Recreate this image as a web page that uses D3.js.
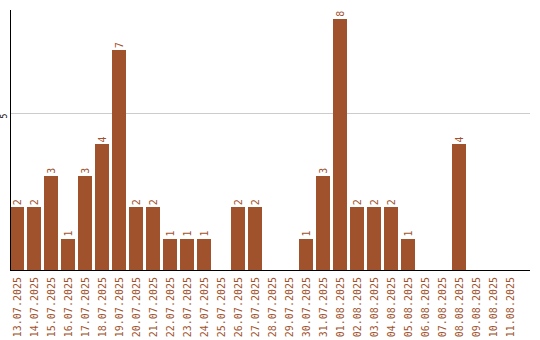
<!DOCTYPE html>
<html><head><meta charset="utf-8">
<script src="https://cdn.jsdelivr.net/npm/d3@7"></script>
<style>body{margin:0;background:#fff}svg{display:block}</style>
</head><body>
<script>
const categories = ["13.07.2025","14.07.2025","15.07.2025","16.07.2025","17.07.2025","18.07.2025","19.07.2025","20.07.2025","21.07.2025","22.07.2025","23.07.2025","24.07.2025","25.07.2025","26.07.2025","27.07.2025","28.07.2025","29.07.2025","30.07.2025","31.07.2025","01.08.2025","02.08.2025","03.08.2025","04.08.2025","05.08.2025","06.08.2025","07.08.2025","08.08.2025","09.08.2025","10.08.2025","11.08.2025"];
const values = [2,2,3,1,3,4,7,2,2,1,1,1,0,2,2,0,0,1,3,8,2,2,2,1,0,0,4,0,0,0];
const yTicks = [5];

const W = 540, H = 340;
const color = "#a0522d";
const svg = d3.select("body").append("svg").attr("width", W).attr("height", H)
  .style("shape-rendering","crispEdges");

const x = d3.scaleBand().domain(categories).range([10, 517]).paddingInner(3/17).paddingOuter(0).align(0);
const y = d3.scaleLinear().domain([0, 8.28]).range([270, 10]);

// gridlines
svg.append("g").selectAll("line").data(yTicks).join("line")
  .attr("x1", 10).attr("x2", 530).attr("y1", d => Math.round(y(d)) + 0.5).attr("y2", d => Math.round(y(d)) + 0.5)
  .attr("stroke", "#cccccc");

// bars
svg.append("g").selectAll("rect").data(values).join("rect")
  .attr("x", (d, i) => x(categories[i]))
  .attr("width", x.bandwidth())
  .attr("y", d => y(d))
  .attr("height", d => 270 - y(d))
  .attr("fill", color);

// value labels
svg.append("g").selectAll("text").data(values.map((v, i) => [v, i]).filter(d => d[0] > 0)).join("text")
  .attr("transform", d => `translate(${x(categories[d[1]]) + 7 + 4},${y(d[0]) - 2}) rotate(-90)`)
  .attr("font-family", "DejaVu Sans Mono").attr("font-size", 10).attr("fill", color)
  .text(d => d[0]);

// y axis line
svg.append("line").attr("x1", 10.5).attr("x2", 10.5).attr("y1", 10).attr("y2", 270).attr("stroke", "#000");
// x axis line
svg.append("line").attr("x1", 10).attr("x2", 530).attr("y1", 270.5).attr("y2", 270.5).attr("stroke", "#000");

// y tick labels
svg.append("g").selectAll("text").data(yTicks).join("text")
  .attr("transform", d => `translate(7,${y(d) + 3}) rotate(-90)`)
  .attr("text-anchor", "middle")
  .attr("font-family", "DejaVu Sans Mono").attr("font-size", 8).attr("fill", "#000")
  .text(d => d);

// x labels
svg.append("g").selectAll("text").data(categories).join("text")
  .attr("transform", d => `translate(${x(d) + 7 + 4},277) rotate(-90)`)
  .attr("text-anchor", "end")
  .attr("font-family", "DejaVu Sans Mono").attr("font-size", 10).attr("fill", color)
  .text(d => d);
</script>
</body></html>
